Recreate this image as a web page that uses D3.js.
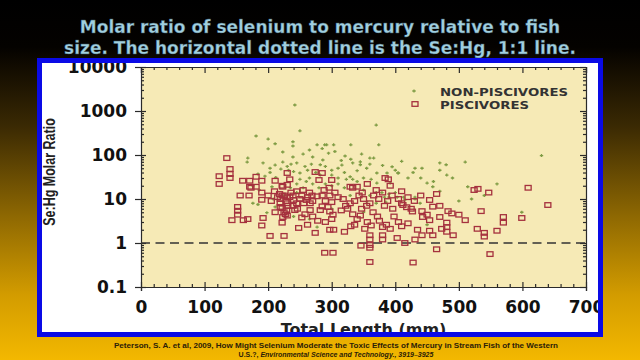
<!DOCTYPE html>
<html><head><meta charset="utf-8">
<script src="https://cdn.jsdelivr.net/npm/d3@7"></script>
<style>html,body{margin:0;padding:0;background:#000;}svg{display:block;}</style>
</head><body>
<svg id="c" width="640" height="360"></svg>
<script>
// ---- data (Total length mm, Se:Hg molar ratio) ----
const titleLines = ["Molar ratio of selenium to mercury relative to fish",
                    "size. The horizontal dotted line is the Se:Hg, 1:1 line."];
const xTicks = [0,100,200,300,400,500,600,700];
const yTicks = [0.1,1,10,100,1000,10000];
const yTickLabels = ["0.1","1","10","100","1000","10000"];
const seriesNames = ["NON-PISCIVORES","PISCIVORES"];
const xTitle = "Total Length (mm)";
const yTitle = "Se:Hg Molar Ratio";
const refRatio = 1;

const piscivores = [
[123,33],[123,22],[135,85],[140,48],[140,37],[140,30],[143,3.3],[152,6.6],[152,5.4],[152,4.4],[156,12],[160,26],[161,3.3],[168,3.5],[170,12],[171,26],[171,19],[173,18],[181,32],[181,19],[190,26],[190,14],[190,9.6],[192,3.7],[190,2.5],[203,1.45],[211,26],[211,5],[222,20],[219,10],[219,8],[219,6.6],[223,3.9],[222,2.9],[225,1.45],[223,19],[200,12],[205,9],[210,15],[215,11],[218,13],[226,12],[228,9],[231,7],[229,5.5],[227,4.5],[234,11],
[230,39],[234,28],[230,21],[222,12],[230,11],[239,12],[253,12],[262,11],[269,12],[277,11.5],[285,12],[297,12],[230,8],[239,7],[245,8],[256,8],[266,8],[222,6.2],[225,5],[230,4.2],[242,5.6],[253,3.8],[266,5.6],[282,5.6],[294,6.6],[297,5.2],[302,4.4],[285,6.8],[297,2.0],[274,1.7],[289,0.6],[302,0.6],[274,41],[285,39],[280,27],[300,27],[245,15],[255,16],[265,14],[250,10],[260,9.5],[270,9],[240,9.5],[236,14],[246,6],[258,4.5],[270,4],[278,3.2],[290,3],[262,2.6],[248,2.2],[290,9],[300,8.5],[288,16],[296,18],[305,14],
[310,11],[318,10],[322,7],[329,8],[336,9],[315,5.5],[325,6],[333,4.5],[340,3.5],[300,3.5],[330,2.4],[336,2.6],[303,2],[320,1.8],[329,19],[340,19],[333,18],[343,12],[350,10],[355,7],[347,6],[360,8],[365,5],[372,4],[345,4.2],[356,3],[362,2.5],[346,0.87],[360,1.5],[360,1.2],[360,0.9],[360,0.78],[380,1.5],[380,1.2],[360,0.37],[389,28],[384,30],[392,20],[380,14],[395,12],[388,9],[374,10],[366,12],[383,7],[396,6],[375,3.2],[386,2.6],[392,2.1],[380,2.3],[398,4],[352,2.1],[348,14],[370,16],[356,22],
[403,1.3],[415,1.0],[431,1.2],[428,0.36],[410,8],[412,7.3],[418,6.5],[425,6],[443,3.9],[427,5.2],[405,3],[410,2.4],[420,2.8],[435,2],[410,15],[420,11],[465,13],[454,9.5],[459,6.7],[442,5.3],[450,4.4],[454,3.3],[470,3.9],[483,5.3],[489,4.7],[500,4.4],[510,3.3],[481,2.9],[481,2.3],[473,2.1],[481,1.8],[454,1.9],[459,1.5],[442,1.5],[491,1.5],[465,0.72],[440,12],[430,9],[405,10],[470,7],
[524,16],[530,17],[547,14],[609,18],[640,7.3],[535,5.3],[570,3.9],[570,2.9],[599,3.7],[560,1.9],[529,2.1],[540,1.7],[540,1.4],[549,0.56]
];

const nonPiscivores = [
[242,1370],[250,355],[181,270],[200,230],[211,180],[239,200],[239,160],[200,138],[223,117],[239,90],[255,105],[277,170],[289,170],[168,85],[167,69],[192,66],[203,50],[211,59],[223,69],[230,55],[236,62],[245,66],[232,45],[220,48],[240,42],[250,39],[270,90],[286,77],[282,60],[290,55],[370,480],[374,170],[292,170],[303,170],[321,95],[347,105],[360,85],[366,85],[410,72],[395,54],[316,59],[333,66],[340,44],[371,39],[387,39],[405,39],[431,50],[442,50],[470,66],[481,35],[510,69],[450,23],[459,19],[514,19],[630,97],[431,11],[431,10],[390,11],[379,14],[370,14],[400,14],[599,5],[439,8],[450,2.6],[282,35],[329,32],[371,23],[392,23],[404,39],[428,40],[350,16],[360,12],[383,11],[390,13],[403,11],[415,9.6],[413,11],[355,8.7],[370,8],[385,8.5],[323,28],[333,28],[310,30],[300,35],[329,12],[277,2.3],[184,37],[195,33],[203,40],[212,31],[176,20],[186,16],[206,19],[176,8],[184,7.5],[211,6.6],[198,4.9],[208,10],[260,25],[270,22],[250,28],[265,30],[245,22],[235,18],[255,18],[280,18],[290,22],[300,20],[310,22],[320,18],[340,25],[350,30],[362,28],[345,60],[355,50],[300,45],[310,50],[320,40],[262,45],[275,40],[258,55],[268,62],[295,110],[305,120],[330,170],[265,130],[285,140],[315,75],[330,80],[345,70],[360,62],[380,58],[400,45],[420,30],[440,30],[460,25],[490,30],[540,12],[500,9],[470,15],[350,5],[300,6],[240,4],[265,3.5],[225,12],[245,14],[520,10],[470,45],[480,60],[560,22]
];

const citation1 = "Peterson, S. A. et al, 2009, How Might Selenium Moderate the Toxic Effects of Mercury in Stream Fish of the Western";
const citation2a = "U.S.?, ";
const citation2b = "Environmental Science and Technology., 3919\u20133925";

// ---- drawing ----
const svg = d3.select("#c");
const defs = svg.append("defs");
const g = defs.append("linearGradient").attr("id","bg").attr("x1",0).attr("y1",0).attr("x2",0).attr("y2",1);
[[0,"#000000"],[0.13,"#040200"],[0.35,"#3a2903"],[0.6,"#8e6802"],[0.82,"#d39c00"],[1,"#f3b800"]]
  .forEach(([o,c])=>g.append("stop").attr("offset",o).attr("stop-color",c));
svg.append("rect").attr("width",640).attr("height",360).attr("fill","url(#bg)");

// title
svg.append("g").selectAll("text").data(titleLines).join("text")
  .attr("x",320).attr("y",(d,i)=>32.5+i*21)
  .attr("text-anchor","middle")
  .attr("font-family","DejaVu Sans").attr("font-weight","bold").attr("font-size",17)
  .attr("fill","#a0cfe0").attr("stroke","#3b5560").attr("stroke-width",0.3)
  .text(d=>d);

// panel white
svg.append("rect").attr("x",40).attr("y",61).attr("width",561).attr("height",273).attr("fill","#ffffff");

const x = d3.scaleLinear().domain([0,700]).range([141,586]);
const y = d3.scaleLog().domain([0.1,10000]).range([287,67]);

const clip = defs.append("clipPath").attr("id","panel");
clip.append("rect").attr("x",42).attr("y",63).attr("width",556).attr("height",269);
const P = svg.append("g").attr("clip-path","url(#panel)");

P.append("rect").attr("x",x(0)).attr("y",y(10000)).attr("width",x(700)-x(0)).attr("height",y(0.1)-y(10000))
  .attr("fill","#f6eab6");

// minor ticks values
const minorY = [];
for (let e=-1;e<4;e++) for (let k=2;k<10;k++) minorY.push(k*Math.pow(10,e));
const minorX = d3.range(0,701,20).filter(v=>v%100!==0);

const axColor = "#2a2a2a";
function styleAxis(sel){
  sel.selectAll("path").attr("stroke",axColor).attr("stroke-width",1.2);
  sel.selectAll("line").attr("stroke",axColor).attr("stroke-width",1.2);
  sel.selectAll("text").attr("fill","#111").attr("font-family","DejaVu Sans").attr("font-weight","bold").attr("font-size",17);
}
// left axis majors (outside) with labels
const la = P.append("g").attr("transform",`translate(${x(0)},0)`)
  .call(d3.axisLeft(y).tickValues(yTicks).tickFormat((d,i)=>yTickLabels[i]).tickSize(6).tickPadding(8));
styleAxis(la); la.select("path").remove();
// left inside majors + minors
P.append("g").attr("transform",`translate(${x(0)},0)`).call(d3.axisRight(y).tickValues(yTicks).tickFormat("").tickSize(5)).call(styleAxis);
P.append("g").attr("transform",`translate(${x(0)},0)`).call(d3.axisRight(y).tickValues(minorY).tickFormat("").tickSize(3)).call(styleAxis).select("path").remove();
// right axis
P.append("g").attr("transform",`translate(${x(700)},0)`).call(d3.axisLeft(y).tickValues(yTicks).tickFormat("").tickSize(6)).call(styleAxis);
P.append("g").attr("transform",`translate(${x(700)},0)`).call(d3.axisLeft(y).tickValues(minorY).tickFormat("").tickSize(3)).call(styleAxis).select("path").remove();
// bottom axis
const ba = P.append("g").attr("transform",`translate(0,${y(0.1)})`)
  .call(d3.axisBottom(x).tickValues(xTicks).tickSize(4).tickPadding(8));
styleAxis(ba);
ba.selectAll("text").attr("dy",0).attr("y",26);
P.append("g").attr("transform",`translate(0,${y(0.1)})`).call(d3.axisTop(x).tickValues(xTicks).tickFormat("").tickSize(5)).call(styleAxis).select("path").remove();
P.append("g").attr("transform",`translate(0,${y(0.1)})`).call(d3.axisTop(x).tickValues(minorX).tickFormat("").tickSize(3)).call(styleAxis).select("path").remove();
// top axis
P.append("g").attr("transform",`translate(0,${y(10000)})`).call(d3.axisBottom(x).tickValues(xTicks).tickFormat("").tickSize(6)).call(styleAxis);
P.append("g").attr("transform",`translate(0,${y(10000)})`).call(d3.axisBottom(x).tickValues(minorX).tickFormat("").tickSize(3)).call(styleAxis).select("path").remove();

// 1:1 reference line
P.append("line").attr("x1",x(0)).attr("x2",x(700)).attr("y1",y(refRatio)).attr("y2",y(refRatio))
  .attr("stroke","#333").attr("stroke-width",1.6).attr("stroke-dasharray","9,5.5");

// non-piscivores (small crosses)
const greenC = "#7f9c44";
P.append("g").selectAll("path").data(nonPiscivores).join("path")
  .attr("d",d=>`M${x(d[0])-1.7},${y(d[1])}h3.4M${x(d[0])},${y(d[1])-1.5}v3`)
  .attr("stroke",greenC).attr("stroke-width",1.3).attr("fill","none");

// piscivores (open squares)
const redC = "#a5313e";
P.append("g").selectAll("rect").data(piscivores).join("rect")
  .attr("x",d=>x(d[0])-3).attr("y",d=>y(d[1])-2.3).attr("width",6).attr("height",4.6)
  .attr("fill","none").attr("stroke",redC).attr("stroke-width",1.3);

// legend
P.append("path").attr("d","M412.3,91h3.4M414,89.5v3").attr("stroke",greenC).attr("stroke-width",1.3);
P.append("rect").attr("x",412).attr("y",101.7).attr("width",6).attr("height",4.6).attr("fill","none").attr("stroke",redC).attr("stroke-width",1.3);
const legendLens = [128, 89];
P.append("g").selectAll("text").data(seriesNames).join("text")
  .attr("x",440).attr("y",(d,i)=>95.5+i*13)
  .attr("font-family","DejaVu Sans").attr("font-weight","bold").attr("font-size",11)
  .attr("textLength",(d,i)=>legendLens[i]).attr("lengthAdjust","spacingAndGlyphs")
  .attr("fill","#333")
  .text(d=>d);

// axis titles
P.append("text").attr("x",(x(0)+x(700))/2).attr("y",335).attr("text-anchor","middle")
  .attr("font-family","DejaVu Sans").attr("font-weight","bold").attr("font-size",16).attr("fill","#222")
  .text(xTitle);
P.append("text").attr("transform","translate(55,172) rotate(-90) scale(1,1.35)")
  .attr("text-anchor","middle")
  .attr("font-family","Liberation Sans").attr("font-weight","bold").attr("font-size",12.5).attr("fill","#222")
  .text(yTitle);

// blue frame
svg.append("rect").attr("x",39.5).attr("y",60.5).attr("width",561).attr("height",274)
  .attr("fill","none").attr("stroke","#0a0ae6").attr("stroke-width",5);

// citation
svg.append("text").attr("x",336).attr("y",347.5).attr("text-anchor","middle")
  .attr("font-family","Liberation Sans").attr("font-weight","bold").attr("font-size",7).attr("fill","#2b2008")
  .attr("textLength",444).attr("lengthAdjust","spacingAndGlyphs")
  .text(citation1);
const t2 = svg.append("text").attr("x",336).attr("y",356.5).attr("text-anchor","middle")
  .attr("font-family","Liberation Sans").attr("font-weight","bold").attr("font-size",7).attr("fill","#2b2008");
t2.append("tspan").text(citation2a);
t2.append("tspan").attr("font-style","italic").text(citation2b);
</script>
</body></html>
